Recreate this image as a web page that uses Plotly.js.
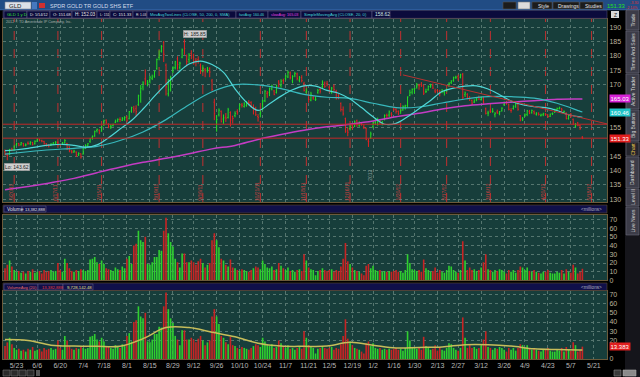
<!DOCTYPE html>
<html><head><meta charset="utf-8">
<script src="https://cdn.plot.ly/plotly-3.0.1.min.js"></script>
<style>html,body{margin:0;padding:0;background:#000;}#chart{width:640px;height:377px;}</style>
</head><body><div id="chart"></div>
<script>
// ---------- categories (trading days) ----------
const FIRST_DAY = '2011-05-16', LAST_DAY = '2012-05-14', AXIS_END = '2012-05-29';
const HOLIDAYS = ['2011-05-30','2011-07-04','2011-09-05','2011-11-24','2011-12-26','2012-01-02','2012-01-16','2012-02-20','2012-04-06','2012-05-28'];
const axisDates = [];
(function(){let d=new Date(FIRST_DAY+'T00:00:00Z');const e=new Date(AXIS_END+'T00:00:00Z');
 while(d<=e){const w=d.getUTCDay();const s=d.toISOString().slice(0,10);if(w!==0&&w!==6&&HOLIDAYS.indexOf(s)<0)axisDates.push(s);d.setUTCDate(d.getUTCDate()+1);}})();
const dates = axisDates.slice(0, axisDates.indexOf(LAST_DAY)+1);

// ---------- daily GLD prices ----------
const open = [
146.8,145.4,145.6,147.5,147.2,149.0,149.5,149.0,149.5,148.9,
149.6,149.4,149.9,149.4,150.3,150.8,150.5,150.2,149.4,148.9,
148.8,149.3,149.3,149.9,149.1,149.2,149.7,149.5,148.3,146.8,
146.5,146.5,145.6,145.9,145.8,147.8,148.7,150.2,151.6,152.2,
154.0,154.1,153.8,155.9,157.6,156.2,155.2,155.8,156.9,157.4,
157.9,157.6,158.0,158.4,158.1,160.8,161.6,161.6,163.0,167.4,
169.2,172.0,170.2,171.2,172.2,173.0,175.6,179.5,181.7,184.7,
176.8,166.8,170.3,174.7,175.9,179.0,176.0,179.6,184.9,179.9,
178.8,180.9,179.6,178.5,178.8,176.6,174.9,175.2,175.0,175.6,
171.3,163.9,157.2,159.5,160.7,158.0,158.7,158.5,160.3,158.9,
159.2,160.6,161.6,162.9,162.4,162.8,163.8,163.8,161.9,161.7,
158.9,159.8,161.3,164.4,167.0,167.3,168.5,167.8,167.3,171.0,
169.7,171.4,172.1,172.7,174.1,171.3,173.4,173.7,171.6,172.5,
170.4,167.4,166.5,164.6,165.4,164.8,167.3,168.3,169.4,170.5,
170.3,169.1,167.3,169.5,167.6,166.1,163.4,161.2,158.1,153.9,
154.7,155.8,155.4,157.4,155.9,156.4,155.2,154.7,150.3,151.4,
155.3,156.9,157.3,157.3,156.6,158.0,159.3,159.4,159.8,161.7,
161.4,160.7,160.8,161.2,162.5,162.7,166.2,167.4,168.5,169.2,
169.8,170.1,169.6,167.5,168.2,169.3,169.9,167.8,167.9,167.4,
167.6,167.4,168.2,169.6,170.7,171.5,172.6,172.8,172.6,173.6,
166.5,166.6,165.4,164.5,163.9,164.7,165.6,164.8,165.3,161.6,
160.1,160.8,160.6,159.5,160.5,159.9,160.9,163.0,163.8,163.0,
161.0,161.7,162.5,163.2,159.2,158.0,159.4,159.6,160.6,160.2,
160.6,159.7,160.1,159.2,159.5,159.8,159.5,159.0,159.9,160.4,
161.3,161.6,161.6,160.4,160.1,158.2,159.8,157.9,155.5,156.7,
155.8,151.68];
const high = [
147.4,146.2,147.6,148.0,148.8,149.8,149.7,150.0,149.7,149.5,
150.2,150.3,150.0,150.6,151.3,151.1,150.8,150.4,149.6,149.2,
149.6,150.0,150.3,150.2,149.4,150.0,151.0,149.7,148.5,147.2,
147.3,146.7,146.4,146.0,147.9,149.2,149.6,151.4,152.3,154.0,
154.7,154.4,155.6,157.8,157.9,156.5,156.2,156.4,157.8,158.2,
158.6,158.7,159.0,159.2,160.8,162.3,162.6,162.8,166.5,169.9,
171.2,175.3,171.6,173.1,173.5,174.9,179.1,182.0,183.8,185.2,
177.4,172.0,173.1,176.4,178.3,179.9,178.0,182.6,185.85,180.5,
181.0,182.0,180.8,179.3,179.9,177.4,176.8,175.8,176.2,176.1,
172.0,165.1,159.4,161.7,161.0,159.6,160.1,161.9,160.7,159.2,
160.7,161.4,163.4,163.6,163.9,164.3,164.6,164.2,163.1,162.3,
159.7,160.9,164.7,168.1,167.8,169.0,170.0,168.1,170.0,171.6,
171.9,172.1,173.4,174.9,174.6,173.3,174.5,174.2,173.0,173.3,
171.0,168.7,166.8,167.5,166.1,165.9,168.5,168.9,171.5,171.1,
171.3,169.7,169.2,170.1,168.2,166.7,163.8,162.4,158.5,155.0,
156.1,156.3,157.5,157.8,157.2,156.9,156.2,155.0,151.2,153.6,
157.0,158.1,158.5,158.0,157.4,159.6,159.9,161.0,160.4,162.3,
161.8,161.0,161.4,162.8,163.0,165.9,168.2,168.7,168.8,170.6,
170.3,170.9,170.0,168.6,169.7,170.3,170.4,168.6,168.5,168.2,
168.5,168.2,168.7,170.8,171.6,172.8,173.1,173.5,173.8,174.07,
167.6,167.0,166.0,164.8,164.9,165.5,166.2,165.9,165.8,162.0,
160.9,161.5,161.8,160.4,161.3,160.8,162.1,164.1,164.3,163.4,
161.8,162.8,163.6,163.5,159.4,158.7,160.0,161.2,161.2,161.3,
161.0,160.4,160.3,159.9,160.2,160.1,159.7,159.9,160.3,161.6,
162.0,162.3,161.9,161.0,160.3,159.8,160.1,158.2,156.6,157.0,
156.0,152.03];
const low = [
145.3,143.62,145.4,146.8,147.0,148.6,148.5,148.8,148.4,148.5,
149.0,149.0,148.8,149.1,150.1,150.2,149.9,149.1,148.4,148.1,
148.6,148.9,149.0,148.7,148.6,149.0,149.5,147.2,146.4,146.0,
146.2,144.8,145.1,144.2,145.6,147.6,148.3,149.7,150.8,151.8,
153.3,152.7,153.6,155.6,156.3,154.8,154.5,155.4,156.6,156.9,
157.0,157.3,157.4,156.8,157.9,160.2,160.2,158.9,162.6,163.7,
168.0,169.9,169.4,170.4,171.6,172.4,175.2,178.5,181.2,177.9,
166.2,165.9,167.6,174.0,175.3,175.2,175.3,179.2,180.4,176.4,
177.6,178.9,177.0,176.4,177.3,173.7,174.3,172.6,174.2,172.6,
167.8,157.6,153.6,158.9,156.8,156.3,157.0,158.2,155.4,156.4,
158.6,159.5,161.1,162.0,162.0,162.3,162.7,162.0,159.6,159.1,
157.1,158.6,161.0,163.9,165.4,166.0,168.0,166.3,166.9,169.1,
168.9,170.2,171.5,172.3,171.8,170.5,172.6,171.5,170.8,170.8,
167.6,166.9,163.7,164.2,164.7,164.3,166.8,166.9,168.6,168.9,
169.4,167.2,166.8,167.7,164.8,164.9,160.6,159.2,153.2,152.0,
154.0,154.3,155.2,155.3,155.3,155.7,154.5,150.6,148.27,151.1,
154.8,156.0,155.7,156.1,155.8,157.5,158.2,158.7,158.7,160.8,
159.9,159.4,159.8,160.9,161.3,162.0,166.0,166.6,166.9,168.6,
168.2,169.2,166.4,167.1,167.9,168.9,168.5,167.0,167.3,165.9,
167.0,166.2,167.5,169.2,170.2,171.0,172.0,171.3,172.2,164.9,
165.7,164.9,164.3,162.9,163.6,164.2,164.6,164.4,163.3,159.6,
159.0,160.1,160.2,158.6,159.8,159.3,160.6,162.6,163.0,161.0,
160.2,161.3,161.9,160.9,157.2,157.3,158.7,159.0,159.7,159.9,
159.6,159.2,159.2,158.9,159.0,159.1,158.4,158.7,159.4,160.1,
161.0,161.4,160.4,160.1,157.9,157.8,158.5,155.9,155.0,155.5,
154.2,151.00];
const close = [
145.9,145.3,147.3,147.4,148.5,149.4,148.9,149.7,148.8,149.0,
149.5,149.8,149.2,150.2,150.9,150.6,150.3,149.4,148.8,148.6,
149.2,149.6,149.9,149.0,149.0,149.7,150.5,148.0,146.9,146.5,
146.8,145.2,146.0,144.8,147.6,148.8,149.4,151.1,151.9,153.6,
154.4,153.2,155.2,157.4,156.9,155.3,155.5,156.1,157.1,157.9,
157.8,158.2,158.5,157.6,160.6,162.0,161.1,160.6,166.1,168.6,
170.6,171.3,170.6,172.6,172.6,174.6,178.8,180.3,183.3,180.6,
169.2,168.2,172.4,175.8,178.0,177.0,177.5,182.1,182.6,178.0,
180.3,180.1,177.5,178.4,178.0,174.6,175.7,174.9,175.4,174.4,
168.3,159.9,157.8,161.1,157.1,158.4,158.3,161.2,157.6,158.2,
159.9,160.2,163.0,162.8,163.3,163.7,163.6,162.5,161.9,159.5,
158.5,160.1,164.3,167.7,167.0,168.6,169.5,166.6,169.5,170.5,
171.2,171.3,173.0,174.3,172.5,172.8,173.9,172.2,172.4,171.4,
168.0,167.8,164.8,166.7,165.4,164.9,167.9,167.7,170.6,169.4,
170.2,168.4,168.8,168.3,165.4,165.6,161.3,159.8,153.8,153.4,
155.2,155.0,157.0,156.1,156.7,156.1,155.0,150.9,150.1,152.8,
156.6,157.6,157.8,156.9,157.0,159.3,159.2,160.5,159.6,161.5,
160.7,160.0,161.1,162.3,162.6,165.7,167.2,168.3,168.7,169.6,
169.6,169.8,167.0,167.6,169.4,169.6,168.8,167.5,167.8,167.0,
167.7,167.8,168.3,170.5,171.1,172.4,172.6,172.2,173.4,165.6,
167.1,165.3,165.1,163.5,164.3,165.0,165.0,165.5,163.9,160.0,
160.1,160.7,160.7,160.0,160.2,160.6,161.8,163.7,163.4,161.4,
161.0,162.3,163.3,161.4,157.6,158.0,159.4,160.9,160.1,161.0,
160.1,159.8,159.6,159.4,159.8,159.6,158.9,159.7,159.9,161.2,
161.7,161.9,161.2,160.6,158.1,159.4,159.0,156.6,155.9,155.8,
154.7,151.33];
// volume, millions of shares
const volume = [
14,18,23,16,12,10,11,9,10,8,
11,10,13,9,10,11,8,12,10,11,
12,10,11,20,12,10,25,20,14,11,
10,12,11,13,12,11,12,24,25,27,
21,19,23,19,14,13,12,11,15,13,
12,16,14,25,28,19,40,42,57,46,
44,50,19,18,21,27,27,35,34,57,
72,54,44,39,25,21,15,31,31,21,
21,23,21,18,22,25,20,15,18,20,
46,54,46,38,25,23,18,16,24,15,
14,12,11,13,12,11,10,12,14,16,
15,13,23,19,15,14,16,12,13,20,
17,14,12,15,11,12,10,12,13,11,
30,23,15,13,12,6,11,12,14,12,
11,12,13,10,12,11,16,25,43,22,
19,15,12,11,10,8,6,17,19,14,
17,12,11,12,10,11,10,11,10,11,
12,10,11,9,12,30,20,13,12,11,
12,10,24,14,12,10,11,15,9,12,
10,9,12,17,16,12,10,9,12,45,
23,12,15,12,13,11,12,15,21,30,
13,12,10,12,11,13,12,10,8,12,
10,12,9,12,16,15,12,15,11,10,
12,10,9,8,10,10,12,9,8,8,
10,9,12,8,13,10,9,18,15,8,
10,13.38];

// ---------- study lines (bar index, value) ----------
const sma20Idx = [0,5,10,15,20,25,30,35,40,45,50,55,60,65,70,75,80,85,90,95,100,105,110,115,120,125,130,135,140,145,150,155,160,165,170,175,180,185,190,195,200,205,210,215,220,225,230,235,240,245,251];
const sma20 = [147.0,147.3,147.8,148.5,149.0,149.2,148.8,148.2,149.0,151.5,154.5,157.5,161.5,166.0,170.2,174.0,177.2,178.2,177.0,174.3,168.5,163.8,161.0,163.3,166.0,168.2,169.6,169.5,168.0,167.0,165.0,162.0,158.8,156.2,156.5,158.8,161.6,164.5,167.6,168.8,169.5,169.6,168.5,166.5,164.3,163.0,162.3,162.0,161.0,159.5,158.62];
const longIdx = [0,10,20,30,40,50,60,70,80,90,100,110,120,130,140,150,160,170,180,190,200,210,220,230,240,250,251];
const sma50 = [145.8,146.6,147.3,147.8,148.5,150.5,153.5,157.8,163.0,167.5,170.0,169.9,168.6,166.6,165.6,165.2,163.5,162.0,162.2,163.6,165.0,165.8,165.8,165.3,163.5,160.7,160.46];
const sma200 = [133.3,134.5,135.8,137.3,139.3,141.2,142.9,144.3,145.9,147.6,148.8,150.9,152.6,154.1,155.3,156.2,157.3,158.8,160.0,161.5,162.6,163.3,163.9,164.4,164.9,165.0,165.03];
const volAvg = [21,20,15,14,13.7,13.7,22,34,34,29,24,17,14,13.7,14,18,15,12,12.5,13,15.5,15.5,14,11,10.2,9.8,9.73];

// ---------- axis ticks & markers ----------
const tickDates = ['2011-05-23','2011-06-06','2011-06-20','2011-07-05','2011-07-18','2011-08-01','2011-08-15','2011-08-29','2011-09-12','2011-09-26','2011-10-10','2011-10-24','2011-11-07','2011-11-21','2011-12-05','2011-12-19','2012-01-03','2012-01-17','2012-01-30','2012-02-13','2012-02-27','2012-03-12','2012-03-26','2012-04-09','2012-04-23','2012-05-07','2012-05-21'];
const tickText = ['5/23','6/6','6/20','7/4','7/18','8/1','8/15','8/29','9/12','9/26','10/10','10/24','11/7','11/21','12/5','12/19','1/2','1/16','1/30','2/13','2/27','3/12','3/26','4/9','4/23','5/7','5/21'];
// price labels that stay visible (165, 160, 150 sit under the value tags)
const priceTicks = [130,135,140,145,155,170,175,180,185,190];
const volTicks2 = [0,10,20,30,40,50,60,70];
const volTicks3 = [0,20,30,40,50,60,70];
const opexDates = ['2011-05-20','2011-06-17','2011-07-15','2011-08-19','2011-09-16','2011-10-21','2011-11-18','2011-12-16','2012-01-20','2012-02-17','2012-03-16','2012-04-20','2012-05-18'];
const opexText = ['5/20/11','6/17/11','7/15/11','8/19/11','9/16/11','10/21/11','11/18/11','12/16/11','1/20/12','2/17/12','3/16/12','4/20/12','5/18/12'];
const supportLevel = 156.2, lastPrice = 151.33;
const trend = {from:'2012-01-23', fromVal:173.4, toIdx:261.7, toVal:156.3};

// ---------- styling ----------
const FONT = 'Liberation Sans, Arial, sans-serif';
const BG = '#173e3b', GRID = '#55766f', FRAME = '#6b5a3a', TICK = '#bdb39c';
const UP = '#22e022', DOWN = '#e42222';
const px2x = px => (px - 3) / 604;
const py2y = py => (359 - py) / 340;
const idx = d => axisDates.indexOf(d);

const volColors = close.map((c, i) => c >= open[i] ? '#2fcf2f' : '#c82424');

const traces = [
 {type:'ohlc', x:dates, open:open, high:high, low:low, close:close, xaxis:'x', yaxis:'y',
  increasing:{line:{color:UP, width:1}}, decreasing:{line:{color:DOWN, width:1}}, tickwidth:0.35,
  hoverinfo:'skip', showlegend:false},
 {type:'scatter', mode:'lines', x:longIdx.map(i=>dates[i]), y:sma200, xaxis:'x', yaxis:'y',
  line:{color:'#c43cc4', width:1.5, shape:'spline'}, hoverinfo:'skip', showlegend:false},
 {type:'scatter', mode:'lines', x:longIdx.map(i=>dates[i]), y:sma50, xaxis:'x', yaxis:'y',
  line:{color:'#38b8bc', width:1.2, shape:'spline'}, hoverinfo:'skip', showlegend:false},
 {type:'scatter', mode:'lines', x:sma20Idx.map(i=>dates[i]), y:sma20, xaxis:'x', yaxis:'y',
  line:{color:'#4fd6d6', width:1.2, shape:'spline'}, hoverinfo:'skip', showlegend:false},
 {type:'bar', x:dates, y:volume, xaxis:'x2', yaxis:'y2', marker:{color:volColors, line:{width:0}},
  hoverinfo:'skip', showlegend:false},
 {type:'bar', x:dates, y:volume, xaxis:'x3', yaxis:'y3', marker:{color:volColors, line:{width:0}},
  hoverinfo:'skip', showlegend:false},
 {type:'scatter', mode:'lines', x:longIdx.map(i=>dates[i]), y:volAvg, xaxis:'x3', yaxis:'y3',
  line:{color:'#c6bd5a', width:1.5, shape:'spline'}, hoverinfo:'skip', showlegend:false}
];

const xBase = {type:'category', categoryorder:'array', categoryarray:axisDates, range:[-0.87, 261.7],
  tickvals:tickDates, ticktext:tickText, showgrid:true, gridcolor:GRID, griddash:'dot', gridwidth:1,
  zeroline:false, showline:true, linecolor:FRAME, mirror:true, ticks:'', fixedrange:true,
  rangeslider:{visible:false}, tickfont:{color:'#b8b8b8', size:7, family:FONT}};
const yBase = {side:'right', showgrid:true, gridcolor:GRID, griddash:'dot', zeroline:false, showline:true,
  linecolor:FRAME, mirror:true, ticks:'', tickfont:{color:TICK, size:7, family:FONT}, fixedrange:true};

const layout = {
 width:640, height:377, margin:{l:3, r:33, t:19, b:18}, paper_bgcolor:'#000', plot_bgcolor:BG,
 font:{family:FONT, size:7, color:'#ccc'}, showlegend:false, hovermode:false, bargap:0.3,
 xaxis: Object.assign({}, xBase, {anchor:'y', showticklabels:false}),
 xaxis2: Object.assign({}, xBase, {anchor:'y2', showticklabels:false}),
 xaxis3: Object.assign({}, xBase, {anchor:'y3', showticklabels:true}),
 yaxis: Object.assign({}, yBase, {anchor:'x', domain:[0.4618,1], range:[129.07,192.9], tickvals:priceTicks}),
 yaxis2: Object.assign({}, yBase, {anchor:'x2', domain:[0.2309,0.4235], range:[0,75], tickvals:volTicks2}),
 yaxis3: Object.assign({}, yBase, {anchor:'x3', domain:[0,0.2], range:[0,73.6], tickvals:volTicks3}),
 shapes:[], annotations:[]
};

const S = layout.shapes, A = layout.annotations;
function rect(x0,y0,x1,y1,fill,line){S.push({type:'rect',xref:'paper',yref:'paper',x0:px2x(x0),x1:px2x(x1),y0:py2y(y1),y1:py2y(y0),fillcolor:fill,line:{color:line||fill,width:line?0.6:0},layer:'above'});}
function txt(px,py,t,color,size,anchor,extra){A.push(Object.assign({xref:'paper',yref:'paper',x:px2x(px),y:py2y(py),text:t,showarrow:false,xanchor:anchor||'left',yanchor:'middle',font:{color:color,size:size||6,family:FONT}},extra||{}));}
// font size so a text fits a box of given pixel width
const fit = (t, w, max) => Math.min(max, (w - 1.5) / (t.length * 0.56));

// option-expiration dashed lines + labels (price panel)
opexDates.forEach((d,k)=>{
 S.push({type:'line', xref:'x', yref:'y domain', x0:idx(d), x1:idx(d), y0:0, y1:1, line:{color:'#c23030', width:1, dash:'dash'}, layer:'below'});
 A.push({xref:'x', yref:'y', x:idx(d), y:132.6, xshift:-3, text:opexText[k], textangle:-90, showarrow:false,
   xanchor:'center', yanchor:'middle', font:{color:'#c84040', size:5, family:FONT}});
});
A.push({xref:'x', yref:'y', x:159.5, y:138.5, xshift:-2, text:'2012', textangle:-90, showarrow:false,
  xanchor:'center', yanchor:'middle', font:{color:'#8a9a96', size:5, family:FONT}});
// support / last price / trend lines
S.push({type:'line', xref:'paper', yref:'y', x0:0, x1:1, y0:supportLevel, y1:supportLevel, line:{color:'#c42828', width:1}});
S.push({type:'line', xref:'paper', yref:'y', x0:0, x1:1, y0:lastPrice, y1:lastPrice, line:{color:'#c42828', width:1}});
S.push({type:'line', xref:'x', yref:'y', x0:idx(trend.from), x1:trend.toIdx, y0:trend.fromVal, y1:trend.toVal, line:{color:'#b83030', width:1}});
// hi / lo bubbles
A.push({xref:'x', yref:'y', x:82.6, y:187.8, text:'H: 185.85', showarrow:false, bgcolor:'#cfcfcf', bordercolor:'#8a8a8a', borderwidth:0.5, borderpad:0.5, font:{color:'#222', size:5, family:FONT}});
A.push({xref:'x', yref:'y', x:5.4, y:141.4, text:'Lo: 143.62', showarrow:false, bgcolor:'#cfcfcf', bordercolor:'#8a8a8a', borderwidth:0.5, borderpad:0.5, font:{color:'#222', size:5, family:FONT}});
// axis value tags
function tag(yref,val,text,bg){A.push({xref:'paper', yref:yref, x:1.003, y:val, text:text, showarrow:false, xanchor:'left', yanchor:'middle', bgcolor:bg, borderpad:0.5, font:{color:'#fff', size:6, family:FONT}});}
tag('y',165.03,'165.03','#d622d6');
tag('y',160.46,'160.46','#1fc4c8');
tag('y',lastPrice,'151.33','#e01e1e');
tag('y3',13.38,'13.383','#e01e1e');

// ---- header bar ----
rect(0,0,640,10,'#214c84');
rect(0,9.5,640,10.3,'#3a6ab0');
rect(5,2,31,9,'#dde1e8','#7a8290');
txt(7,5.6,'GLD','#1a1a1a',6);
rect(32,2,37,9,'#4678bf');
rect(39,3,45,8,'#d03030');
txt(48,5.6,'SPDR GOLD TR GOLD SHS ETF','#d4dcec',5.5);
rect(503,2,516,9,'#1c1c1c','#555');
rect(518,2,530,9,'#dcdcdc','#777');
rect(532,2,552,9,'#1c1c1c','#555'); txt(536,5.6,'Style','#e8e8e8',5);
rect(553,2,579,9,'#1c1c1c','#555'); txt(556,5.6,'Drawings','#e8e8e8',5);
rect(580,2,603,9,'#1c1c1c','#555'); txt(583,5.6,'Studies','#e8e8e8',5);
txt(604.5,5.6,'151.33','#22e022',5.8,'left');
txt(639.5,3.3,'-3.30','#e03030',3.6,'right');
txt(639.5,7.6,'-2.14%','#e03030',3.6,'right');

// ---- study info row ----
rect(3,10.5,607,18.3,'#0b0b3c','#4a4a70');
const infoBoxes = [[4,27,'GLD 1 y D','#33e033'],[27,50,'D: 5/14/12','#e4e4e4'],[50,72,'O: 151.68','#e4e4e4'],[72,97,'H: 152.03','#e4e4e4'],
 [97,110,'L: 151','#e4e4e4'],[110,133,'C: 151.33','#e4e4e4'],[133,147,'R: 1.03','#e4e4e4'],[147,236,'MovAvgTwoLines (CLOSE, 50, 200, 0, SMA)','#45d8d8'],
 [236,268,'fastAvg: 160.46','#45d8d8'],[268,301,'slowAvg: 165.03','#e244e2'],[301,372,'SimpleMovingAvg (CLOSE, 20, 0)','#45d8d8'],[372,390,'158.62','#cfe8e8']];
infoBoxes.forEach(b=>{rect(b[0],11,b[1],18,'#0b0b3c','#5a5a80'); txt(b[0]+0.8,14.6,b[2],b[3],fit(b[2],b[1]-b[0],5));});
rect(611,11,619,18,'#d8d8d8'); txt(615,14.6,'Z','#222',5,'center');
txt(4,22,'2012 © TD Ameritrade IP Company, Inc.','#a8b0ae',fit('2012 © TD Ameritrade IP Company, Inc.',78,5));

// ---- panel header bars ----
rect(3,205,607,213,'#10104a','#5a4a30');
rect(4,206,22,212,'#10104a','#5a5a80'); txt(5,209.3,'Volume','#e4e4e4',fit('Volume',18,5));
rect(22,206,46,212,'#10104a','#5a5a80'); txt(23,209.3,'13,382,888','#e4e4e4',fit('13,382,888',24,5));
txt(604,209.3,'<millions>','#b0b0c0',4.6,'right');
rect(3,283,607,290.5,'#10104a','#5a4a30');
rect(4,284,38,290,'#10104a','#5a5a80'); txt(5,287,'VolumeAvg (20)','#e06868',fit('VolumeAvg (20)',34,5));
rect(38,284,63,290,'#10104a','#5a5a80'); txt(39.5,287,'13,382,888','#e24040',fit('13,382,888',25,5));
rect(63,284,93,290,'#10104a','#5a5a80'); txt(64.5,287,'9,728,142.48','#e6e08a',fit('9,728,142.48',30,5));
txt(604,287,'<millions>','#b0b0c0',4.6,'right');

// ---- right-hand tab strip ----
rect(625,10,640,377,'#15151b');
const tabs = [[10,30,'Trade'],[31,73,'Times And Sales'],[74,109,'Active Trader'],[110,141,'Big Buttons'],[142,156,'Chart'],[157,188,'Dashboard'],[189,206,'Level II'],[207,235,'Live News']];
tabs.forEach(t=>{
 const on = t[2]==='Chart';
 rect(626,t[0],639,t[1], on ? '#25252c' : '#3c3c48', '#6a6a78');
 A.push({xref:'paper', yref:'paper', x:px2x(632.5), y:py2y((t[0]+t[1])/2), text:t[2], textangle:-90, showarrow:false,
   xanchor:'center', yanchor:'middle', font:{color: on ? '#e4c24a' : '#d6d6d6', size:5, family:FONT}});
});
// bottom toolbars
[[3,10],[11,18],[19,26],[27,34]].forEach(b=>rect(b[0],370,b[1],376,'#2a2a2a','#777'));
rect(36,370,40,376,'#555');
rect(614,370,621,376,'#3a3a3a','#888'); rect(623,370,636,376,'#8a8a8a','#aaa');

Plotly.newPlot('chart', traces, layout, {staticPlot:true, displayModeBar:false});
</script>
</body></html>
